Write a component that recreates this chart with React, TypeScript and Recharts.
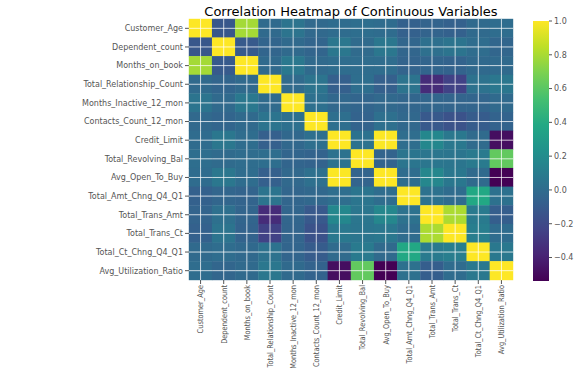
import { ScatterChart, Scatter, XAxis, YAxis, BarChart, Bar } from "recharts";

const LABELS = [
  "Customer_Age",
  "Dependent_count",
  "Months_on_book",
  "Total_Relationship_Count",
  "Months_Inactive_12_mon",
  "Contacts_Count_12_mon",
  "Credit_Limit",
  "Total_Revolving_Bal",
  "Avg_Open_To_Buy",
  "Total_Amt_Chng_Q4_Q1",
  "Total_Trans_Amt",
  "Total_Trans_Ct",
  "Total_Ct_Chng_Q4_Q1",
  "Avg_Utilization_Ratio",
];

// correlation rows, same order as LABELS
const CUSTOMER_AGE = [1, -0.122, 0.789, -0.011, 0.054, -0.018, 0.002, 0.015, 0.001, -0.062, -0.046, -0.067, -0.012, 0.007];
const DEPENDENT_COUNT = [-0.122, 1, -0.103, -0.039, -0.011, -0.041, 0.068, -0.003, 0.068, -0.035, 0.025, 0.05, 0.011, -0.037];
const MONTHS_ON_BOOK = [0.789, -0.103, 1, -0.009, 0.074, -0.011, 0.008, 0.009, 0.007, -0.049, -0.039, -0.05, -0.014, -0.008];
const TOTAL_REL_COUNT = [-0.011, -0.039, -0.009, 1, -0.004, 0.055, -0.071, 0.014, -0.073, 0.05, -0.347, -0.242, 0.041, 0.068];
const MONTHS_INACTIVE = [0.054, -0.011, 0.074, -0.004, 1, 0.029, -0.02, -0.042, -0.017, -0.032, -0.037, -0.043, -0.039, -0.008];
const CONTACTS_COUNT = [-0.018, -0.041, -0.011, 0.055, 0.029, 1, 0.021, -0.054, 0.026, -0.024, -0.113, -0.152, -0.095, -0.055];
const CREDIT_LIMIT = [0.002, 0.068, 0.008, -0.071, -0.02, 0.021, 1, 0.042, 0.996, 0.013, 0.172, 0.076, -0.002, -0.483];
const REVOLVING_BAL = [0.015, -0.003, 0.009, 0.014, -0.042, -0.054, 0.042, 1, -0.047, 0.058, 0.064, 0.056, 0.09, 0.624];
const AVG_OPEN_TO_BUY = [0.001, 0.068, 0.007, -0.073, -0.017, 0.026, 0.996, -0.047, 1, 0.008, 0.166, 0.071, -0.01, -0.539];
const AMT_CHNG = [-0.062, -0.035, -0.049, 0.05, -0.032, -0.024, 0.013, 0.058, 0.008, 1, 0.04, 0.005, 0.384, 0.035];
const TRANS_AMT = [-0.046, 0.025, -0.039, -0.347, -0.037, -0.113, 0.172, 0.064, 0.166, 0.04, 1, 0.807, 0.086, -0.083];
const TRANS_CT = [-0.067, 0.05, -0.05, -0.242, -0.043, -0.152, 0.076, 0.056, 0.071, 0.005, 0.807, 1, 0.112, 0.003];
const CT_CHNG = [-0.012, 0.011, -0.014, 0.041, -0.039, -0.095, -0.002, 0.09, -0.01, 0.384, 0.086, 0.112, 1, 0.074];
const UTIL_RATIO = [0.007, -0.037, -0.008, 0.068, -0.008, -0.055, -0.483, 0.624, -0.539, 0.035, -0.083, 0.003, 0.074, 1];

const ROWS = [
  CUSTOMER_AGE, DEPENDENT_COUNT, MONTHS_ON_BOOK, TOTAL_REL_COUNT, MONTHS_INACTIVE,
  CONTACTS_COUNT, CREDIT_LIMIT, REVOLVING_BAL, AVG_OPEN_TO_BUY, AMT_CHNG,
  TRANS_AMT, TRANS_CT, CT_CHNG, UTIL_RATIO,
];

const CBAR_TICKS = [-0.4, -0.2, 0.0, 0.2, 0.4, 0.6, 0.8, 1.0];

const VMIN = Math.min(...ROWS.flat());
const VMAX = 1;

const VIRIDIS = [
  "#440154", "#482475", "#414487", "#355f8d", "#2a788e", "#21918c",
  "#22a884", "#44bf70", "#7ad151", "#bddf26", "#fde725",
];

function hex(c: string) {
  return [1, 3, 5].map((i) => parseInt(c.slice(i, i + 2), 16));
}

function viridis(v: number) {
  const t = Math.max(0, Math.min(1, (v - VMIN) / (VMAX - VMIN)));
  const p = t * (VIRIDIS.length - 1);
  const i = Math.min(Math.floor(p), VIRIDIS.length - 2);
  const f = p - i;
  const a = hex(VIRIDIS[i]);
  const b = hex(VIRIDIS[i + 1]);
  const c = a.map((x, k) => Math.round(x + (b[k] - x) * f));
  return `rgb(${c[0]},${c[1]},${c[2]})`;
}

const W = 588;
const H = 377;
const M = { top: 19, right: 75, bottom: 0, left: 0 };
const Y_W = 189;
const X_H = 97;
const N = LABELS.length;
const CW = (W - M.left - M.right - Y_W) / N;
const CH = (H - M.top - M.bottom - X_H) / N;

const cells = ROWS.flatMap((row, j) => row.map((v, i) => ({ x: i + 0.5, y: j + 0.5, v })));
const centers = LABELS.map((_, i) => i + 0.5);

const FONT = "'DejaVu Sans', sans-serif";

const Cell = (p: any) => (
  <rect
    x={p.cx - CW / 2 - 0.2}
    y={p.cy - CH / 2 - 0.2}
    width={CW + 0.4}
    height={CH + 0.4}
    fill={viridis(p.payload.v)}
  />
);

const GridMark = (p: any) => (
  <g stroke="#fff" strokeOpacity={0.75} strokeWidth={1}>
    <line x1={p.cx - CW / 2} x2={p.cx + CW / 2} y1={p.cy} y2={p.cy} />
    <line x1={p.cx} x2={p.cx} y1={p.cy - CH / 2} y2={p.cy + CH / 2} />
  </g>
);

// x labels in the reference are squeezed along the text direction
const XTick = (p: any) => (
  <g transform={`translate(${p.x},${p.y})`}>
    <text
      transform="rotate(-90) scale(0.83,1)"
      textAnchor="end"
      dy="0.355em"
      fontSize={8}
      fill="#555"
      fontFamily={FONT}
    >
      {LABELS[Math.floor(p.payload.value)]}
    </text>
  </g>
);

export default function App() {
  return (
    <div style={{ position: "absolute", left: 0, top: 0, width: W, height: H, background: "#fff" }}>
      <div
        style={{
          position: "absolute",
          left: 189,
          width: 324,
          top: 4,
          textAlign: "center",
          fontFamily: FONT,
          fontSize: 13,
          color: "#000",
          lineHeight: "15px",
          whiteSpace: "nowrap",
        }}
      >
        Correlation Heatmap of Continuous Variables
      </div>
      <div style={{ position: "absolute", left: 0, top: 0 }}>
        <ScatterChart width={W} height={H} margin={M}>
          <XAxis
            type="number"
            dataKey="x"
            domain={[0, N]}
            ticks={centers}
            interval={0}
            height={X_H}
            axisLine={false}
            tickSize={4}
            tickMargin={1}
            tickLine={{ stroke: "#555" }}
            tick={<XTick />}
          />
          <YAxis
            type="number"
            dataKey="y"
            domain={[0, N]}
            reversed
            ticks={centers}
            interval={0}
            width={Y_W}
            axisLine={false}
            tickSize={4}
            tickMargin={2}
            tickLine={{ stroke: "#555" }}
            tickFormatter={(v: number) => LABELS[Math.floor(v)]}
            tick={{ fontSize: 8, fill: "#555", fontFamily: FONT }}
          />
          <Scatter data={cells} shape={<Cell />} isAnimationActive={false} />
          <Scatter data={cells} shape={<GridMark />} isAnimationActive={false} />
        </ScatterChart>
      </div>
      <div style={{ position: "absolute", left: 533, top: 0 }}>
        <BarChart
          width={55}
          height={H}
          data={[{ k: "cbar", r: [VMIN, VMAX] }]}
          margin={{ top: 21, bottom: 96, left: 0, right: 0 }}
          barCategoryGap={0}
        >
          <defs>
            <linearGradient id="viridisGrad" x1="0" y1="1" x2="0" y2="0">
              {VIRIDIS.map((c, i) => (
                <stop key={i} offset={i / (VIRIDIS.length - 1)} stopColor={c} />
              ))}
            </linearGradient>
          </defs>
          <XAxis dataKey="k" hide />
          <YAxis
            type="number"
            orientation="right"
            domain={[VMIN, VMAX]}
            allowDataOverflow
            ticks={CBAR_TICKS}
            interval={0}
            width={39}
            axisLine={false}
            tickSize={3}
            tickMargin={2}
            tickLine={{ stroke: "#555" }}
            tickFormatter={(v: number) => v.toFixed(1).replace("-", "\u2212")}
            tick={{ fontSize: 8, fill: "#555", fontFamily: FONT, textAnchor: "start" }}
          />
          <Bar dataKey="r" fill="url(#viridisGrad)" isAnimationActive={false} />
        </BarChart>
      </div>
    </div>
  );
}
